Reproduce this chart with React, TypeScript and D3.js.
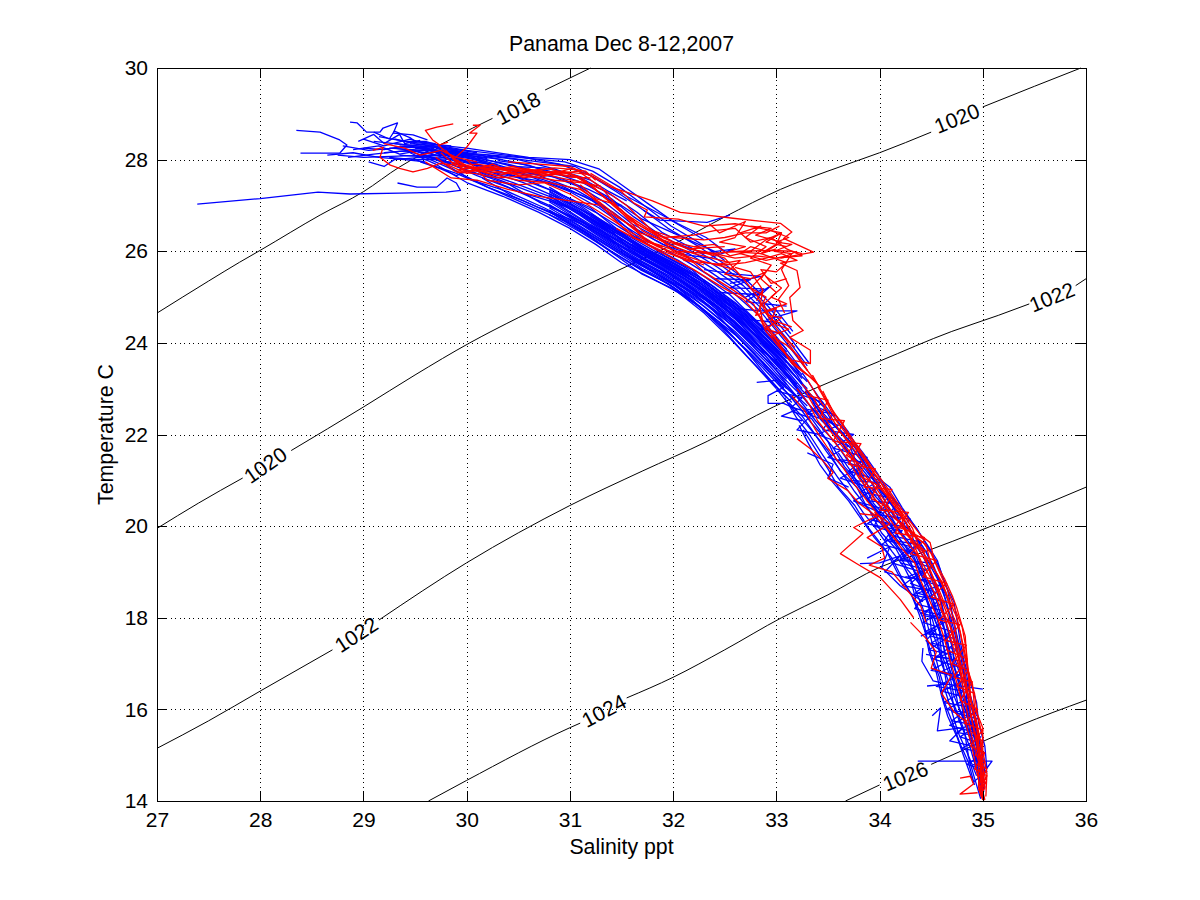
import { useEffect, useRef } from 'react'
import * as d3 from 'd3'

type Pt = [number, number]

const xTicks = [27, 28, 29, 30, 31, 32, 33, 34, 35, 36]
const yTicks = [14, 16, 18, 20, 22, 24, 26, 28, 30]

// density contours, null = gap for the inline label
const contour1018: (Pt | null)[] = [[27,24.65],[27.5,25.35],[27.8,25.76],[28,26.02],[28.58,26.79],[29,27.3],[29.35,27.84],[29.74,28.32],[30.06,28.69],[30.25,28.9],null,[30.76,29.52],[31.2,30]]
const contour1020: (Pt | null)[] = [[27,19.95],[27.4,20.5],[27.83,21.05],null,[28.3,21.65],[29,22.6],[29.5,23.3],[30.03,24],[30.5,24.55],[31.1,25.2],[31.58,25.7],[32,26.15],[32.5,26.75],[33.04,27.35],[33.5,27.75],[34,28.15],[34.5,28.6],null,[35,29.15],[35.5,29.6],[35.95,30]]
const contour1022: (Pt | null)[] = [[27,15.15],[27.5,15.75],[28,16.4],[28.7,17.3],null,[29.15,17.95],[30,19.2],[31,20.45],[31.7,21.2],[32.33,21.85],[32.97,22.6],[33.42,23.05],[34,23.6],[34.7,24.25],[35.15,24.6],[35.45,24.85],null,[35.9,25.25],[36,25.4]]
const contour1024: (Pt | null)[] = [[29.63,14],[30,14.45],[31,15.6],[31.1,15.7],null,[31.55,16.25],[32,16.7],[32.5,17.3],[33.05,18],[33.5,18.5],[34,19.1],[34.45,19.45],[34.97,19.9],[35.36,20.25],[36,20.85]]
const contour1026: (Pt | null)[] = [[33.67,14],[34,14.35],null,[34.5,14.8],[34.97,15.27],[35.36,15.65],[36,16.2]]
const contours = [contour1018, contour1020, contour1022, contour1024, contour1026]

const contourLabels = ['1018', '1020', '1020', '1022', '1022', '1024', '1026']
const labelSalinity = [30.5, 34.75, 28.05, 28.93, 35.67, 31.33, 34.25]
const labelTemperature = [29.12, 28.9, 21.33, 17.63, 25.0, 15.97, 14.54]
const labelAngle = [-28, -22, -35, -33, -22, -28, -22]

// blue casts, upper part of the curve
const blueUpper: Pt[][] = [
  [[29.45,28.15],[29.7,27.9],[30,27.5],[30.35,27.2],[30.7,26.85],[31,26.5],[31.25,26.15],[31.5,25.75],[31.8,25.4],[32.05,25.1],[32.3,24.65],[32.55,24.1],[32.8,23.5],[33,23]],
  [[29.5,28.2],[29.75,27.95],[30.05,27.55],[30.4,27.3],[30.75,26.95],[31.05,26.6],[31.3,26.25],[31.55,25.9],[31.85,25.5],[32.1,25.2],[32.35,24.8],[32.6,24.2],[32.85,23.6],[33.05,23.05]],
  [[29.4,28.2],[29.8,27.95],[30.1,27.65],[30.45,27.35],[30.8,27],[31.1,26.65],[31.35,26.35],[31.6,25.95],[31.9,25.6],[32.15,25.25],[32.4,24.85],[32.65,24.3],[32.9,23.7],[33.1,23.1]],
  [[29.6,28.25],[29.85,28],[30.15,27.7],[30.5,27.4],[30.85,27.1],[31.15,26.75],[31.4,26.4],[31.65,26.05],[31.95,25.65],[32.2,25.35],[32.45,24.95],[32.7,24.4],[32.95,23.75],[33.15,23.2]],
  [[29.55,28.3],[29.9,28.05],[30.2,27.75],[30.55,27.5],[30.9,27.15],[31.2,26.8],[31.45,26.45],[31.7,26.1],[32,25.7],[32.25,25.4],[32.5,25],[32.75,24.45],[33,23.85],[33.2,23.3]],
  [[29.65,28.2],[29.95,28],[30.25,27.8],[30.6,27.55],[30.95,27.2],[31.25,26.85],[31.5,26.5],[31.75,26.15],[32.05,25.8],[32.3,25.45],[32.55,25.05],[32.8,24.5],[33.02,23.95],[33.22,23.35]],
  [[29.7,28.25],[30,28.05],[30.3,27.85],[30.65,27.6],[31,27.3],[31.28,26.95],[31.53,26.55],[31.78,26.2],[32.08,25.85],[32.33,25.5],[32.58,25.1],[32.83,24.6],[33.05,24],[33.25,23.4]],
  [[29.75,28.3],[30.05,28.05],[30.35,27.85],[30.7,27.65],[31.05,27.35],[31.32,27],[31.56,26.6],[31.82,26.25],[32.12,25.9],[32.36,25.55],[32.62,25.15],[32.86,24.65],[33.08,24.05],[33.3,23.4]],
  [[29.5,28.25],[29.95,28.1],[30.4,27.9],[30.75,27.7],[31.1,27.4],[31.35,27.05],[31.6,26.6],[31.85,26.3],[32.15,25.95],[32.4,25.6],[32.65,25.2],[32.88,24.7],[33.1,24.1],[33.3,23.5]],
  [[29.6,28.3],[30,28.15],[30.45,27.95],[30.8,27.75],[31.12,27.5],[31.4,27.15],[31.62,26.75],[31.88,26.35],[32.18,26],[32.43,25.65],[32.68,25.25],[32.9,24.75],[33.12,24.15],[33.32,23.55]],
  [[29.35,28.3],[29.9,28.15],[30.5,28],[30.85,27.8],[31.15,27.55],[31.42,27.2],[31.65,26.85],[31.9,26.4],[32.2,26.05],[32.46,25.7],[32.7,25.3],[32.92,24.8],[33.14,24.2]],
  [[29.3,28.35],[30,28.2],[30.55,28.05],[30.9,27.9],[31.2,27.65],[31.45,27.3],[31.68,26.95],[31.95,26.5],[32.25,26.1],[32.48,25.75],[32.72,25.35],[32.95,24.85],[33.16,24.25]],
  [[29.25,28.25],[29.95,28.15],[30.5,28.05],[30.95,27.95],[31.22,27.75],[31.48,27.4],[31.72,27],[31.98,26.55],[32.28,26.15],[32.5,25.8]],
  [[29.4,28.4],[30,28.25],[30.6,28.05],[31,28],[31.28,27.8],[31.5,27.45],[31.75,27.05],[32,26.65],[32.3,26.25]],
  [[29.55,28.1],[29.85,27.8],[30.2,27.4],[30.55,27.1],[30.85,26.8],[31.15,26.4],[31.4,26],[31.68,25.6],[31.95,25.3],[32.2,24.9],[32.45,24.45],[32.7,23.85],[32.9,23.3],[33.1,22.8]],
  [[29.5,28],[29.9,27.7],[30.25,27.35],[30.6,27],[30.95,26.65],[31.2,26.3],[31.45,25.9],[31.7,25.5],[31.98,25.2],[32.25,24.8],[32.48,24.3],[32.72,23.7],[32.95,23.15],[33.15,22.7]],
  [[29.7,28.15],[30.1,27.9],[30.5,27.6],[30.85,27.3],[31.2,26.95],[31.42,26.55],[31.62,26.2],[31.88,25.8],[32.14,25.5],[32.38,25],[32.62,24.5],[32.85,23.9],[33.05,23.4],[33.25,22.9]],
  [[29.8,28.2],[30.15,27.95],[30.55,27.7],[30.9,27.45],[31.22,27.1],[31.46,26.7],[31.66,26.3],[31.92,25.9],[32.18,25.6],[32.42,25.1],[32.66,24.6],[32.88,24],[33.1,23.5],[33.28,23]],
  [[29.6,28.1],[30.05,27.8],[30.45,27.5],[30.8,27.2],[31.1,26.85],[31.38,26.5],[31.58,26.05],[31.83,25.7],[32.1,25.3],[32.34,24.9],[32.58,24.4],[32.78,23.95],[33,23.6],[33.2,23.1]],
  [[29.65,28.05],[30.1,27.7],[30.42,27.45],[30.72,27.05],[31.03,26.75],[31.33,26.4],[31.52,26],[31.77,25.6],[32.02,25.25],[32.28,24.75],[32.52,24.25],[32.76,23.75],[32.98,23.25],[33.18,22.85]],
  [[30.2,28.1],[30.7,27.95],[31.05,27.85],[31.25,27.6],[31.55,27.2],[31.8,26.9],[32.05,26.6],[32.32,26.3],[32.5,26]],
  [[30,28],[30.5,27.75],[30.9,27.6],[31.18,27.35],[31.5,27],[31.7,26.7],[31.95,26.45],[32.2,26.2],[32.45,25.95]],
  [[29.9,27.9],[30.4,27.65],[30.8,27.5],[31.14,27.2],[31.42,26.85],[31.62,26.5],[31.9,26.15],[32.15,25.95]],
  [[30.1,28.05],[30.45,27.85],[30.75,27.82],[31,27.7],[31.2,27.55],[31.38,27.3],[31.55,27.1]],
  [[30.3,27.98],[30.6,27.88],[30.85,27.68],[31.1,27.6],[31.3,27.25],[31.48,26.98]],
  [[30.25,27.55],[30.5,27.3],[30.8,27.1],[31.05,26.9],[31.28,26.6],[31.5,26.25]],
  [[30.15,27.6],[30.45,27.2],[30.7,26.95],[31,26.7],[31.2,26.5],[31.44,26.15]],
]

// blue casts packed into the solid stretch of the curve
const blueCore: Pt[][] = [
  [[30.8,26.8],[31.1,26.42],[31.4,26],[31.7,25.6],[32,25.22],[32.3,24.72],[32.6,24.18],[32.9,23.5],[33.1,23]],
  [[30.8,26.86],[31.1,26.48],[31.4,26.06],[31.7,25.63],[32,25.27],[32.3,24.8],[32.6,24.25],[32.9,23.58],[33.1,23.08]],
  [[30.8,26.9],[31.1,26.5],[31.4,26.08],[31.7,25.68],[32,25.3],[32.3,24.86],[32.6,24.33],[32.9,23.63],[33.1,23.17]],
  [[30.8,26.95],[31.1,26.55],[31.4,26.12],[31.7,25.72],[32,25.35],[32.3,24.9],[32.6,24.38],[32.9,23.7],[33.1,23.22]],
  [[30.8,27],[31.1,26.6],[31.4,26.15],[31.7,25.75],[32,25.38],[32.3,24.95],[32.6,24.42],[32.9,23.76],[33.1,23.28]],
  [[30.8,27.02],[31.1,26.62],[31.4,26.18],[31.7,25.78],[32,25.42],[32.3,24.98],[32.6,24.47],[32.9,23.8],[33.1,23.34]],
  [[30.8,27.08],[31.1,26.66],[31.4,26.22],[31.7,25.82],[32,25.46],[32.3,25.02],[32.6,24.52],[32.9,23.86],[33.1,23.4]],
  [[30.8,27.12],[31.1,26.7],[31.4,26.25],[31.7,25.86],[32,25.5],[32.3,25.06],[32.6,24.56],[32.9,23.92],[33.1,23.46]],
  [[30.8,27.15],[31.1,26.72],[31.4,26.3],[31.7,25.88],[32,25.53],[32.3,25.1],[32.6,24.6],[32.9,23.97],[33.1,23.5]],
  [[30.8,27.2],[31.1,26.78],[31.4,26.32],[31.7,25.92],[32,25.56],[32.3,25.14],[32.6,24.64],[32.9,24.02],[33.1,23.56]],
  [[30.8,27.22],[31.1,26.8],[31.4,26.36],[31.7,25.95],[32,25.6],[32.3,25.17],[32.6,24.68],[32.9,24.06],[33.1,23.6]],
  [[30.8,27.26],[31.1,26.85],[31.4,26.4],[31.7,25.98],[32,25.62],[32.3,25.2],[32.6,24.72],[32.9,24.1],[33.1,23.66]],
  [[30.8,27.3],[31.1,26.88],[31.4,26.42],[31.7,26],[32,25.66],[32.3,25.24],[32.6,24.77],[32.9,24.15],[33.1,23.7]],
  [[30.8,27.32],[31.1,26.92],[31.4,26.47],[31.7,26.04],[32,25.69],[32.3,25.28],[32.6,24.8],[32.9,24.2],[33.1,23.75]],
  [[30.8,27.36],[31.1,26.96],[31.4,26.5],[31.7,26.06],[32,25.73],[32.3,25.32],[32.6,24.84],[32.9,24.25],[33.1,23.8]],
  [[30.8,27.4],[31.1,27],[31.4,26.53],[31.7,26.1],[32,25.76],[32.3,25.37],[32.6,24.88],[32.9,24.3],[33.1,23.86]],
  [[31.2,26.5],[31.5,26.12],[31.8,25.72],[32.1,25.32],[32.4,24.82],[32.7,24.25],[33,23.55],[33.25,22.85]],
  [[31.2,26.58],[31.5,26.2],[31.8,25.8],[32.1,25.42],[32.4,24.92],[32.7,24.38],[33,23.68],[33.25,23]],
  [[31.2,26.64],[31.5,26.27],[31.8,25.86],[32.1,25.5],[32.4,25],[32.7,24.47],[33,23.76],[33.25,23.1]],
  [[31.2,26.7],[31.5,26.33],[31.8,25.93],[32.1,25.56],[32.4,25.08],[32.7,24.55],[33,23.85],[33.25,23.22]],
  [[31.2,26.76],[31.5,26.38],[31.8,25.98],[32.1,25.62],[32.4,25.16],[32.7,24.62],[33,23.94],[33.25,23.3]],
  [[31.2,26.82],[31.5,26.42],[31.8,26.03],[32.1,25.67],[32.4,25.22],[32.7,24.68],[33,24.02],[33.25,23.38]],
  [[31.6,26.15],[31.9,25.78],[32.2,25.4],[32.5,24.92],[32.8,24.3],[33.05,23.7],[33.3,23.15]],
  [[31.6,26.08],[31.9,25.7],[32.2,25.28],[32.5,24.78],[32.8,24.17],[33.05,23.57],[33.3,23]],
  [[31.6,25.98],[31.9,25.62],[32.2,25.18],[32.5,24.65],[32.8,24.02],[33.05,23.42],[33.3,22.85]],
  [[31.6,25.88],[31.9,25.52],[32.2,25.08],[32.5,24.52],[32.8,23.88],[33.05,23.28],[33.3,22.72]],
  [[31.6,25.8],[31.9,25.44],[32.2,24.98],[32.5,24.42],[32.8,23.75],[33.05,23.15],[33.3,22.62]],
  [[31.6,25.72],[31.9,25.36],[32.2,24.88],[32.5,24.32],[32.8,23.62],[33.05,23.02],[33.3,22.5]],
]

// blue casts, flat bundle at the surface
const blueTop: Pt[][] = [
  [[28.35,28.64],[28.58,28.6],[28.77,28.43],[28.84,28.32],[28.77,28.14],[28.39,28.14]],
  [[28.87,28.82],[28.94,28.8],[29.03,28.6],[29.16,28.6],[29.19,28.69],[29.33,28.8],[29.29,28.58],[29.48,28.54],[29.62,28.43]],
  [[27.39,27.03],[28,27.15],[28.56,27.29],[28.87,27.25],[29.35,27.27],[29.8,27.29],[29.94,27.33],[29.9,27.49],[29.81,27.6],[29.71,27.4],[29.52,27.4],[29.33,27.49]],
  [[28.75,28.1],[29,28.05],[29.4,28.08],[29.8,28.1],[30.1,28]],
  [[28.8,28.3],[29.05,28.2],[29.3,28.25],[29.6,28.15],[29.9,28.2]],
  [[28.85,28.05],[29.1,28.12],[29.35,28.18],[29.7,28.2],[30,28.15]],
  [[29.05,27.95],[29.2,27.85],[29.3,28],[29.55,28.05],[29.85,28]],
  [[29.1,28.4],[29.3,28.35],[29.5,28.3],[29.8,28.25],[30.1,28.15]],
  [[29,28.45],[29.2,28.3],[29.45,28.45],[29.6,28.35],[29.85,28.3]],
  [[29.15,28.5],[29.4,28.4],[29.6,28.4],[29.75,28.3],[30,28.2]],
  [[29.2,28.15],[29.45,28.2],[29.7,28.1],[29.9,28.1],[30.2,27.95]],
  [[29.25,28.05],[29.5,28],[29.7,28],[29.95,27.9],[30.1,27.8]],
  [[29,28.25],[29.2,28.22],[29.4,28.3],[29.65,28.25],[29.95,28.05]],
  [[29.3,28.45],[29.5,28.35],[29.7,28.3],[29.85,28.15],[30.15,28.05]],
  [[28.65,28.1],[28.9,28.15],[29.15,28.05],[29.4,28],[29.6,27.95]],
  [[29.55,27.95],[29.75,27.8],[29.9,27.65],[30,27.75],[30.25,27.6]],
  [[28.95,28.4],[29.1,28.55],[29.2,28.35],[29.35,28.55],[29.4,28.35],[29.55,28.42]],
  [[29.1,28.6],[29.25,28.45],[29.3,28.62],[29.45,28.48],[29.5,28.4],[29.7,28.35]],
  [[28.9,28.22],[29.15,28.3],[29.35,28.12],[29.6,28.22],[29.8,28.15],[30.05,28.1]],
  [[29.3,28.28],[29.55,28.26],[29.75,28.18],[29.95,28.12],[30.2,28.02]],
  [[29.35,28.1],[29.6,28.06],[29.8,28.05],[30,27.95],[30.3,27.9]],
  [[29.45,28.35],[29.65,28.3],[29.85,28.24],[30.05,28.08],[30.35,28]],
  [[29.6,28.18],[29.8,28.02],[29.95,27.95],[30.15,27.85],[30.4,27.78]],
]

// blue casts, loose strands beside the curve
const blueLoose: Pt[][] = [
  [[31.71,26.9],[31.87,26.68],[32.33,26.63],[32.55,26.79]],
  [[32,26.2],[32.29,25.96],[32.6,26.05],[32.35,25.85],[32.05,25.95]],
  [[32.3,25.6],[32.6,25.5],[32.85,25.45],[32.55,25.3]],
  [[32.45,25.1],[32.85,25.05],[32.95,25.25],[32.7,24.9],[33.1,24.8]],
  [[32.6,24.75],[32.85,24.7],[33.2,24.7],[32.9,24.5]],
  [[32.4,25.4],[32.75,25.38],[32.55,25.2],[32.88,25.18],[32.7,25]],
  [[32.75,24.5],[33,24.45],[32.85,24.3],[33.05,24.2]],
  [[32.81,23.14],[33,23.18],[33.07,23.03],[32.92,22.85],[32.92,22.68],[33.07,22.68],[33.2,22.55],[33.05,22.4],[33.25,22.3]],
  [[33,22.95],[33.25,22.8],[33.15,22.6],[33.35,22.45],[33.2,22.1],[33.42,22]],
  [[33.3,21.6],[33.55,21.35],[33.5,21.05],[33.7,20.85]],
  [[34.42,17.34],[34.41,17.05],[34.52,16.62],[34.65,16.55]],
  [[34.46,16.51],[34.65,16.55],[35,16.44]],
  [[34.51,15.86],[34.59,16.03],[34.56,15.53],[34.81,15.6],[34.68,15.31],[34.9,15.2]],
  [[34.37,14.87],[34.7,14.87],[35.09,14.87],[35.04,14.72],[34.9,14.8]],
  [[33.75,20.55],[34,20.3],[33.95,20],[34.15,19.85]],
  [[33.81,19.18],[34,19.2],[34.2,19.35],[34.05,19],[34.3,18.85],[34.35,18.4]],
  [[33.88,19.3],[34.1,19.55],[34.02,19.1],[34.2,18.7],[34.42,18.35]],
  [[34.4,17.6],[34.55,17.75],[34.45,17.5],[34.65,17.2]],
]

// blue casts, lower part of the curve
const blueLower: Pt[][] = [
  [[33,23],[33.18,22.5],[33.3,22.2],[33.5,21.65],[33.62,21.2],[33.78,20.85],[33.88,20.4],[34.05,19.95],[34.18,19.55],[34.3,19.2],[34.38,18.75],[34.46,18.35],[34.52,17.9],[34.57,17.45],[34.6,17],[34.68,16.55],[34.72,16.05],[34.8,15.6],[34.88,15.15],[34.95,14.6],[35,14.15]],
  [[33.05,23.05],[33.22,22.6],[33.34,22.25],[33.54,21.75],[33.66,21.3],[33.82,20.9],[33.92,20.5],[34.09,20.05],[34.22,19.65],[34.34,19.25],[34.42,18.85],[34.5,18.4],[34.56,17.95],[34.61,17.5],[34.65,17.05],[34.72,16.6],[34.76,16.1],[34.84,15.65],[34.9,15.2],[34.97,14.65],[35,14.1]],
  [[33.1,23.1],[33.26,22.65],[33.38,22.3],[33.58,21.8],[33.7,21.4],[33.86,21],[33.96,20.55],[34.13,20.1],[34.25,19.7],[34.38,19.3],[34.45,18.9],[34.54,18.45],[34.6,18],[34.65,17.55],[34.7,17.1],[34.76,16.65],[34.8,16.15],[34.88,15.7],[34.93,15.25],[34.98,14.7],[35.01,14.2]],
  [[33.15,23.2],[33.3,22.7],[33.42,22.4],[33.62,21.85],[33.74,21.5],[33.9,21.05],[34,20.6],[34.16,20.2],[34.28,19.8],[34.42,19.35],[34.5,18.95],[34.58,18.5],[34.63,18.05],[34.68,17.6],[34.72,17.15],[34.79,16.7],[34.83,16.2],[34.9,15.75],[34.95,15.3],[34.99,14.8],[35.02,14.3]],
  [[33.2,23.3],[33.34,22.8],[33.46,22.45],[33.66,21.95],[33.78,21.55],[33.94,21.1],[34.04,20.7],[34.2,20.25],[34.32,19.85],[34.45,19.45],[34.54,19],[34.62,18.55],[34.67,18.1],[34.71,17.65],[34.76,17.2],[34.82,16.75],[34.86,16.25],[34.92,15.8],[34.97,15.35],[35,14.9]],
  [[33.25,23.35],[33.4,22.85],[33.5,22.55],[33.7,22],[33.84,21.6],[33.98,21.15],[34.08,20.75],[34.24,20.3],[34.36,19.95],[34.48,19.5],[34.58,19.1],[34.66,18.6],[34.7,18.15],[34.74,17.7],[34.79,17.25],[34.84,16.8],[34.88,16.3],[34.94,15.85]],
  [[33.08,22.8],[33.2,22.35],[33.32,22],[33.45,21.55],[33.6,21.05],[33.72,20.7],[33.84,20.3],[33.98,19.9],[34.12,19.45],[34.24,19.1],[34.34,18.65],[34.42,18.2],[34.47,17.8],[34.52,17.35],[34.57,16.9],[34.63,16.45],[34.7,15.95],[34.76,15.5],[34.85,15.05],[34.92,14.5],[34.98,14.05]],
  [[33.12,22.7],[33.25,22.4],[33.36,22.05],[33.48,21.65],[33.64,21.15],[33.76,20.75],[33.9,20.35],[34.02,19.85],[34.16,19.5],[34.27,19.05],[34.4,18.7],[34.48,18.25],[34.5,17.75],[34.56,17.4],[34.62,16.95],[34.66,16.4],[34.74,16],[34.82,15.55],[34.86,15],[34.94,14.55]],
  [[33.28,23],[33.4,22.55],[33.52,22.15],[33.72,21.7],[33.8,21.25],[33.92,20.75],[34.06,20.4],[34.18,19.95],[34.3,19.6],[34.4,19.1],[34.47,18.7],[34.55,18.2],[34.62,17.85],[34.66,17.3],[34.7,16.85],[34.76,16.35],[34.84,15.95],[34.88,15.45],[34.94,15],[34.98,14.4]],
  [[33.32,22.9],[33.46,22.6],[33.56,22.2],[33.76,21.75],[33.86,21.3],[34,20.8],[34.12,20.45],[34.26,20.05],[34.34,19.65],[34.46,19.2],[34.52,18.75],[34.6,18.3],[34.65,17.8],[34.7,17.4],[34.73,16.9],[34.8,16.45],[34.87,16.05],[34.91,15.5],[34.96,15.05]],
  [[33.35,22.7],[33.5,22.3],[33.62,22.1],[33.8,21.6],[33.9,21.2],[34.03,20.65],[34.14,20.2],[34.3,19.9],[34.42,19.55],[34.52,19.15],[34.6,18.7],[34.68,18.3],[34.72,17.9],[34.76,17.45],[34.8,17],[34.85,16.55],[34.9,16.1],[34.93,15.6],[34.99,15.15],[35.02,14.6]],
  [[33.4,22.6],[33.58,22.4],[33.7,22.05],[33.82,21.58],[33.93,21.15],[34.1,20.85],[34.22,20.4],[34.34,20],[34.46,19.6],[34.56,19.25],[34.63,18.75],[34.72,18.35],[34.75,17.95],[34.78,17.5],[34.82,17.05],[34.88,16.6],[34.94,16.15],[34.96,15.7],[35.02,15.2],[35.04,14.7]],
  [[33.22,22.2],[33.3,21.85],[33.42,21.35],[33.55,20.95],[33.7,20.55],[33.84,20.1],[33.95,19.75],[34.08,19.4],[34.18,18.95],[34.3,18.55],[34.38,18.1],[34.44,17.7],[34.48,17.25],[34.55,16.8],[34.6,16.3],[34.66,15.85],[34.75,15.4],[34.82,14.95],[34.9,14.45]],
  [[33.26,22.1],[33.36,21.75],[33.5,21.25],[33.6,20.85],[33.76,20.45],[33.88,20],[34,19.65],[34.12,19.3],[34.22,18.85],[34.32,18.45],[34.42,18],[34.46,17.55],[34.5,17.2],[34.58,16.7],[34.62,16.2],[34.7,15.75],[34.78,15.25],[34.86,14.85],[34.92,14.35]],
  [[33.6,21.6],[33.72,21.2],[33.85,20.7],[34,20.25],[34.1,19.75],[34.23,19.35],[34.36,18.95],[34.44,18.5],[34.52,18.05],[34.6,17.6],[34.64,17.15],[34.7,16.7],[34.78,16.25],[34.82,15.8],[34.9,15.35],[34.96,14.85]],
  [[33.68,21.5],[33.83,21],[33.94,20.5],[34.08,20.15],[34.2,19.7],[34.32,19.4],[34.4,19],[34.5,18.55],[34.55,18.1],[34.64,17.7],[34.68,17.2],[34.74,16.8],[34.8,16.3],[34.86,15.9],[34.92,15.4],[34.97,14.95],[35,14.5]],
  [[33.1,23.3],[33.28,22.75],[33.44,22.3],[33.6,21.95],[33.68,21.65],[33.82,21.35],[33.96,20.95],[34.1,20.55],[34.2,20.1],[34.36,19.75],[34.44,19.35],[34.56,18.85],[34.64,18.4],[34.69,18],[34.74,17.55],[34.77,17.1],[34.83,16.65],[34.85,16.05],[34.92,15.65],[34.98,15.1]],
  [[33.16,22.5],[33.34,22.35],[33.5,21.85],[33.58,21.45],[33.74,21.05],[33.86,20.65],[34.02,20.15],[34.14,19.8],[34.26,19.45],[34.34,19],[34.43,18.6],[34.5,18.15],[34.58,17.7],[34.6,17.2],[34.68,16.75],[34.72,16.3],[34.8,15.85],[34.87,15.4],[34.93,14.9],[34.98,14.25]],
]

// blue casts with the sharp back-and-forth runs of the deep water
const blueZigzag: Pt[][] = [
  [[33.2,22.9],[33.45,22.7],[33.3,22.45],[33.6,22.2],[33.4,22],[33.7,21.75],[33.5,21.5],[33.82,21.3],[33.62,21.05],[33.95,20.8],[33.75,20.55],[34.08,20.35],[33.88,20.05],[34.22,19.9],[34.02,19.6],[34.36,19.4]],
  [[33.3,22.55],[33.55,22.45],[33.45,22.1],[33.75,22],[33.55,21.7],[33.88,21.5],[33.7,21.2],[34,21],[33.82,20.75],[34.14,20.6],[33.96,20.25],[34.3,20.15],[34.1,19.8],[34.4,19.65],[34.2,19.25],[34.5,19.2]],
  [[34.1,19.7],[34.36,19.6],[34.2,19.3],[34.5,19.1],[34.28,18.9],[34.58,18.7],[34.32,18.5],[34.64,18.35],[34.4,18.1],[34.68,17.95],[34.44,17.7],[34.72,17.55]],
  [[34.2,19.2],[34.45,19.05],[34.3,18.75],[34.55,18.55],[34.36,18.3],[34.62,18.15],[34.42,17.9],[34.7,17.7],[34.5,17.45],[34.76,17.3],[34.52,17.1],[34.8,16.9]],
  [[34.5,17.6],[34.74,17.45],[34.55,17.15],[34.8,17.05],[34.58,16.8],[34.84,16.65],[34.6,16.4],[34.86,16.25],[34.65,16],[34.9,15.9],[34.68,15.65],[34.92,15.5]],
  [[34.45,17.2],[34.7,17.1],[34.5,16.85],[34.78,16.75],[34.55,16.5],[34.82,16.4],[34.62,16.15],[34.88,16.05],[34.7,15.75],[34.95,15.65],[34.78,15.4],[34.98,15.25]],
  [[34.7,15.95],[34.95,15.8],[34.75,15.5],[34.98,15.4],[34.8,15.15],[35.02,15.05],[34.85,14.8],[35.04,14.65],[34.9,14.4]],
  [[33.9,20.15],[34.15,20],[34.05,19.7],[34.3,19.55],[34.12,19.2],[34.4,19],[34.22,18.7],[34.48,18.6],[34.34,18.2],[34.6,18.05]],
  [[33.6,21.45],[33.85,21.4],[33.72,21],[34,20.95],[33.88,20.55],[34.18,20.5],[34.02,20.1],[34.3,19.95]],
  [[34.25,18.9],[34.5,18.8],[34.35,18.55],[34.58,18.4],[34.42,18.05],[34.62,17.95],[34.46,17.65],[34.68,17.6],[34.48,17.3],[34.7,17.2]],
]

// red casts, surface bundle running into the plume
const redUpper: Pt[][] = [
  [[29.75,28.15],[29.9,27.85],[30.1,27.9],[30.4,27.8],[30.7,27.75],[31,27.7],[31.2,27.45],[31.35,27.15],[31.55,26.8],[31.75,26.5],[32,26.2],[32.3,26.05]],
  [[29.8,28.2],[29.95,27.8],[30.2,27.85],[30.5,27.7],[30.8,27.8],[31.05,27.65],[31.25,27.35],[31.42,27],[31.6,26.65],[31.85,26.35],[32.1,26.1],[32.4,25.9]],
  [[29.7,28.05],[29.88,27.75],[30.15,27.75],[30.45,27.85],[30.75,27.65],[31.08,27.75],[31.3,27.4],[31.47,26.95],[31.65,26.6],[31.9,26.25],[32.15,26.05],[32.5,26.1]],
  [[29.85,28.1],[30,27.7],[30.25,27.9],[30.55,27.6],[30.85,27.7],[31.12,27.6],[31.32,27.2],[31.5,26.9],[31.7,26.45],[31.95,26.15],[32.2,25.95],[32.55,25.75]],
  [[29.9,28],[30.05,27.8],[30.3,27.65],[30.6,27.8],[30.9,27.6],[31.15,27.5],[31.36,27.3],[31.55,27],[31.75,26.55],[32,26],[32.25,25.8],[32.6,25.6]],
  [[29.72,28.32],[29.95,27.9],[30.2,27.7],[30.5,27.55],[30.8,27.5],[31.1,27.35],[31.3,27.05],[31.5,26.7],[31.72,26.3],[31.98,25.95],[32.3,25.7]],
  [[30,28],[30.2,27.55],[30.5,27.45],[30.75,27.5],[31,27.25],[31.22,26.95],[31.4,26.7],[31.6,26.4],[31.85,26.1],[32.15,25.85]],
  [[29.6,27.95],[29.85,27.6],[30.1,27.55],[30.4,27.35],[30.7,27.2],[31,27.1],[31.3,27],[31.45,26.65],[31.62,26.3],[31.9,26],[32.2,25.75]],
  [[30.4,27.95],[30.7,27.9],[31,27.85],[31.2,27.65],[31.4,27.4],[31.6,27.25],[31.8,27.1],[32.07,26.85],[32.33,26.79],[32.58,26.72],[33.04,26.61],[33.15,26.42],[33.07,26.28],[33.36,25.98],[33.04,25.85]],
  [[31.2,27.7],[31.35,27.5],[31.5,27.3],[31.62,27.05],[31.75,26.9],[31.72,26.75],[32.05,26.7],[32.3,26.55],[32.6,26.6],[32.85,26.5],[33.05,26.4],[32.9,26.2],[33.1,26.1]],
  [[29.09,28.2],[29.19,28.27],[29.16,28.05],[29.26,27.88],[29.35,27.81],[29.48,27.73],[29.62,27.81],[29.74,27.92],[29.9,27.88]],
  [[29.87,28.78],[29.71,28.71],[29.6,28.64],[29.67,28.43],[29.74,28.32],[29.82,28.38]],
  [[30.06,28.75],[30.13,28.75],[30.03,28.58],[30.1,28.58],[30,28.27],[29.87,28]],
  [[29.2,28.35],[29.4,28.25],[29.55,28.1],[29.75,28.2],[29.9,28.05],[30.1,27.95]],
  [[30.1,27.75],[30.4,27.7],[30.7,27.6],[31,27.8],[31.15,27.75],[31.25,27.55]],
  [[30,27.85],[30.35,27.78],[30.65,27.72],[30.95,27.72],[31.1,27.62]],
  [[29.85,27.95],[30,27.82],[30.25,27.8],[30.55,27.75],[30.85,27.82],[31.05,27.78]],
  [[29.8,27.9],[29.95,27.75],[30.2,27.78],[30.5,27.82],[30.8,27.72],[31,27.62],[31.2,27.6]],
  [[29.92,27.78],[30.1,27.82],[30.35,27.72],[30.62,27.68],[30.9,27.75],[31.18,27.68]],
  [[29.9,27.72],[30.08,27.7],[30.3,27.6],[30.6,27.65],[30.85,27.55],[31.1,27.5],[31.3,27.42]],
  [[31,27.55],[31.2,27.2],[31.35,26.9],[31.45,26.75],[31.6,26.55],[31.75,26.2],[31.9,26.1]],
  [[31.1,27.45],[31.25,27.15],[31.4,27.05],[31.52,26.8],[31.68,26.4],[31.82,26.3],[32.05,26.05]],
]

// red tangle of the warm plume and the column below it
const redPlume: Pt[][] = [
  [[31.9,26.3],[32.2,26.35],[32.4,26.45],[32.6,26.5],[32.75,26.2],[32.95,26.3],[33.1,26.05],[33.25,25.9],[33,25.85],[32.8,25.9],[32.6,25.85],[32.4,25.95],[32.15,26.05]],
  [[32.2,26.1],[32.4,26.15],[32.55,25.9],[32.75,26],[32.9,26.25],[33.05,26.4],[33,26.15],[32.85,25.95],[33.1,25.75],[33,25.55],[32.85,25.6],[32.95,25.3],[33.1,25.4]],
  [[32.1,25.8],[32.3,25.75],[32.5,25.7],[32.7,25.75],[32.9,25.85],[33.05,25.95],[33.2,25.8],[33.04,25.74],[33.2,25.58],[33.23,25.21],[33.13,24.99],[33.16,24.49],[33.26,24.27],[33.13,24.12],[33.33,23.84],[33.33,23.55],[33.16,23.62]],
  [[32.6,25.65],[32.75,25.55],[32.87,25.15],[32.81,24.93],[32.87,25.15],[32.84,24.78],[32.87,24.43],[33,24.05],[33.13,23.62],[33.33,23.25],[33.43,23.03]],
  [[32.9,25.45],[33.05,25.2],[32.95,25],[33.1,24.85],[32.9,24.7],[33,24.4],[33.12,24.3],[32.95,24.15],[33.1,23.95],[33.22,23.7],[33.3,23.4]],
  [[32.65,26.4],[32.85,26.55],[32.7,26.3],[32.9,26.1],[32.75,25.85],[32.95,25.7],[32.85,25.4],[33,25.1],[32.88,24.85],[32.92,24.6],[33.05,24.55],[32.9,24.3],[33.05,24.2],[33.18,23.9]],
  [[32.95,26.45],[33.12,26.3],[33,26.2],[33.15,26.15],[32.98,26],[33.15,25.95],[33.05,25.6],[33.12,25.25],[33.02,24.95],[33.08,24.65]],
  [[31.6,26.3],[31.85,26.15],[32.1,25.95],[32.3,25.55],[32.55,25.2],[32.78,24.85],[32.9,24.25],[33.05,23.85],[33.2,23.5],[33.38,23.15]],
  [[31.45,26.5],[31.7,26.2],[31.95,25.9],[32.2,25.6],[32.45,25.25],[32.68,24.95],[32.85,24.55],[33,24.1],[33.15,23.55],[33.3,23.3]],
  [[32.3,26],[32.5,25.85],[32.7,25.35],[32.82,25],[32.95,24.45],[33.1,24.05],[33.25,23.55],[33.4,23.1]],
  [[32.35,26.6],[32.45,26.4],[32.7,26.65],[32.6,26.3],[32.45,26.2],[32.7,26.1],[32.55,26],[32.85,25.95],[33,26.05]],
  [[32.75,26.55],[32.95,26.5],[32.8,26.35],[33.05,26.2],[32.9,26],[32.75,26.1],[32.65,25.95],[32.9,25.8],[33.1,25.9],[33.2,26]],
  [[32.4,25.7],[32.65,25.8],[32.5,25.5],[32.75,25.4],[32.9,25.55],[32.75,25.2],[32.9,25],[32.8,24.6],[33,24.75],[32.95,24.5],[33.15,24.35]],
  [[31.8,26.45],[32,26.3],[32.3,26.25],[32.5,26.3],[32.7,26.4],[32.9,26.4],[33.03,26.55]],
  [[32.05,26],[32.35,25.95],[32.65,26],[32.95,26.02],[33.15,26],[33.25,25.95]],
]

// red casts, lower part of the curve
const redLower: Pt[][] = [
  [[33.3,23.2],[33.42,22.75],[33.5,22.5],[33.62,22.05],[33.76,21.65],[33.88,21.25],[34,20.9],[34.12,20.5],[34.25,20.1],[34.35,19.75],[34.45,19.6],[34.5,19.15],[34.6,18.8],[34.68,18.35],[34.75,18],[34.8,17.5],[34.85,17],[34.87,16.5],[34.9,16],[34.95,15.5],[34.97,15],[35,14.5],[35,14.05]],
  [[33.25,23.1],[33.36,22.8],[33.46,22.4],[33.58,22],[33.72,21.6],[33.84,21.15],[33.96,20.85],[34.08,20.45],[34.2,20.05],[34.32,19.7],[34.42,19.5],[34.48,19.05],[34.56,18.7],[34.64,18.25],[34.72,17.9],[34.76,17.4],[34.82,16.95],[34.85,16.4],[34.88,15.9],[34.93,15.45],[34.98,14.9],[34.98,14.4],[35.02,14.02]],
  [[33.35,23.3],[33.46,22.85],[33.54,22.55],[33.66,22.15],[33.8,21.7],[33.92,21.3],[34.04,20.95],[34.16,20.55],[34.28,20.15],[34.4,19.8],[34.49,19.64],[34.53,19.25],[34.63,18.85],[34.71,18.45],[34.75,18.2],[34.83,17.6],[34.85,16.9],[34.9,16.55],[34.92,16.05],[35,15.6],[35,15.1],[35.04,14.6],[35.03,14.1]],
  [[33.2,23],[33.32,22.65],[33.4,22.3],[33.54,21.9],[33.68,21.5],[33.8,21.05],[33.92,20.7],[34.04,20.35],[34.16,19.95],[34.28,19.6],[34.36,19.4],[34.44,18.95],[34.52,18.6],[34.6,18.15],[34.66,17.8],[34.72,17.3],[34.78,16.85],[34.82,16.3],[34.86,15.8],[34.9,15.35],[34.96,14.85],[34.96,14.3],[35,14.05]],
  [[33.4,23.05],[33.5,22.65],[33.58,22.3],[33.7,21.95],[33.84,21.55],[33.96,21.1],[34.08,20.75],[34.2,20.35],[34.32,19.95],[34.38,19.55],[34.46,19.3],[34.56,18.95],[34.64,18.55],[34.7,18.1],[34.78,17.7],[34.82,17.2],[34.87,16.75],[34.88,16.2],[34.94,15.75],[34.98,15.25],[35,14.75],[35.02,14.25]],
  [[33.15,22.85],[33.28,22.5],[33.38,22.1],[33.5,21.7],[33.64,21.3],[33.76,20.9],[33.88,20.55],[34,20.2],[34.12,19.8],[34.22,19.5],[34.34,19.2],[34.4,18.8],[34.48,18.4],[34.56,18],[34.62,17.6],[34.68,17.1],[34.74,16.65],[34.8,16.15],[34.84,15.65],[34.9,15.15],[34.94,14.65],[34.99,14.15]],
  [[33.45,22.95],[33.56,22.45],[33.64,22.25],[33.74,21.8],[33.87,21.4],[34,21],[34.1,20.6],[34.22,20.25],[34.3,19.85],[34.42,19.65],[34.5,19.4],[34.58,19],[34.66,18.6],[34.72,18.25],[34.8,17.8],[34.84,17.3],[34.86,16.8],[34.92,16.35],[34.95,15.85],[35,15.4],[34.98,14.95],[35.03,14.45]],
  [[33.28,22.95],[33.38,22.55],[33.48,22.2],[33.6,21.85],[33.74,21.45],[33.86,20.95],[34,20.65],[34.1,20.25],[34.24,20],[34.34,19.55],[34.4,19.25],[34.5,18.85],[34.58,18.5],[34.66,18.05],[34.7,17.65],[34.76,17.15],[34.8,16.7],[34.86,16.25],[34.9,15.7],[34.94,15.25],[34.98,14.7],[35,14.2]],
  [[33.2,21.91],[33.33,21.69],[33.45,21.43],[33.55,21.17],[33.5,21.04],[33.69,20.78],[33.8,20.5],[33.95,20.25],[34.08,19.9],[34.2,19.6]],
  [[33.81,20.27],[33.98,20.23],[33.75,19.97],[33.84,19.84],[33.62,19.4],[33.78,19.18],[34.01,18.87],[34.2,18.4],[34.33,18]],
  [[33.95,20.3],[34.1,20.05],[33.88,19.75],[34.02,19.55],[34.05,19.3],[33.9,19.15],[34.12,19],[34.25,18.65],[34.4,18.25],[34.45,17.9]],
  [[34.3,17.9],[34.45,17.55],[34.55,17.25],[34.5,16.9],[34.7,16.75],[34.6,16.35],[34.72,15.95],[34.85,15.7]],
  [[34.78,14.5],[34.88,14.54],[34.91,14.37],[34.78,14.15],[34.95,14.18]],
  [[34.05,20.8],[34.2,20.35],[34.25,19.85],[34.38,19.5],[34.48,19.1],[34.56,18.65],[34.6,18.2],[34.7,17.75],[34.75,17.35],[34.8,16.85],[34.84,16.45],[34.9,16.1],[34.94,15.65],[34.96,15.2]],
  [[33.3,22.85],[33.5,22.75],[33.42,22.35],[33.66,22.3],[33.55,21.85],[33.82,21.8],[33.7,21.35],[33.96,21.25],[33.85,20.85],[34.12,20.8],[34,20.35],[34.28,20.3],[34.15,19.85],[34.44,19.75]],
  [[34.2,20],[34.44,19.7],[34.3,19.4],[34.55,19.25],[34.42,18.9],[34.65,18.75],[34.5,18.45],[34.72,18.3],[34.58,17.95],[34.78,17.85],[34.64,17.5],[34.84,17.4],[34.7,17],[34.86,16.85],[34.75,16.5],[34.92,16.35]],
  [[34.65,17.3],[34.85,17.1],[34.72,16.7],[34.9,16.6],[34.78,16.2],[34.95,16],[34.82,15.7],[35,15.55],[34.88,15.2],[35.02,15.05],[34.92,14.7],[35.04,14.55],[34.96,14.25],[35.02,14.05]],
  [[34.9,15.5],[35,15.3],[34.93,15],[35.02,14.85],[34.95,14.6],[35.03,14.4],[34.97,14.2],[35,14.02]],
  [[34.94,15.2],[35.01,15],[34.96,14.8],[35.04,14.7],[34.98,14.45],[35.02,14.3],[34.98,14.1]],
  [[33.95,20.95],[34.1,20.6],[34.05,20.4],[34.22,20.2],[34.15,20],[34.34,19.85],[34.3,19.65],[34.45,19.45]],
  [[33.6,22.1],[33.74,21.75],[33.68,21.55],[33.85,21.3],[33.8,21.1],[33.98,20.9],[33.92,20.6],[34.1,20.4]],
]

const title = 'Panama Dec 8-12,2007'
const xLabel = 'Salinity ppt'
const yLabel = 'Temperature C'

const FONT = '"Liberation Sans", Arial, sans-serif'

export default function App() {
  const svgRef = useRef<SVGSVGElement>(null)

  useEffect(() => {
    if (!svgRef.current) return
    const svg = d3.select(svgRef.current)
    svg.selectAll('*').remove()

    const left = 157, right = 1086, top = 68, bottom = 801
    const x = d3.scaleLinear().domain([27, 36]).range([left, right])
    const y = d3.scaleLinear().domain([14, 30]).range([bottom, top])

    const line = d3.line<Pt | null>()
      .defined(d => d !== null)
      .x(d => x((d as Pt)[0]))
      .y(d => y((d as Pt)[1]))

    // Grid
    const gridX = svg.append('g').attr('transform', `translate(0, ${bottom})`)
      .call(d3.axisBottom(x).tickValues(xTicks.slice(1, -1)).tickSize(-(bottom - top)).tickFormat(() => ''))
    const gridY = svg.append('g').attr('transform', `translate(${left}, 0)`)
      .call(d3.axisLeft(y).tickValues(yTicks.slice(1, -1)).tickSize(-(right - left)).tickFormat(() => ''))
    for (const g of [gridX, gridY]) {
      g.select('.domain').remove()
      g.selectAll('line').attr('stroke', '#000').attr('stroke-dasharray', '1 3.5').attr('shape-rendering', 'crispEdges')
    }

    // Contours
    const contourLine = line.curve(d3.curveMonotoneX)
    svg.append('g').selectAll('path').data(contours).enter().append('path')
      .attr('d', d => contourLine(d))
      .attr('fill', 'none').attr('stroke', '#000').attr('stroke-width', 1)
    line.curve(d3.curveLinear)

    contourLabels.forEach((label, i) => {
      svg.append('text')
        .attr('transform', `translate(${x(labelSalinity[i])}, ${y(labelTemperature[i])}) rotate(${labelAngle[i]})`)
        .attr('text-anchor', 'middle').attr('dy', '0.35em')
        .style('font-family', FONT).style('font-size', '21px').style('fill', '#000')
        .text(label)
    })

    // Casts, blue first so the red lies on top
    const casts = (data: Pt[][], color: string) => {
      svg.append('g').selectAll('path').data(data).enter().append('path')
        .attr('d', d => line(d))
        .attr('fill', 'none').attr('stroke', color).attr('stroke-width', 1.3)
        .attr('stroke-linejoin', 'round')
    }
    casts(blueTop, '#0000ff')
    casts(blueUpper, '#0000ff')
    casts(blueCore, '#0000ff')
    casts(blueLower, '#0000ff')
    casts(blueZigzag, '#0000ff')
    casts(blueLoose, '#0000ff')
    casts(redUpper, '#ff0000')
    casts(redPlume, '#ff0000')
    casts(redLower, '#ff0000')

    // Axes on all four sides, ticks pointing in
    const axes = [
      svg.append('g').attr('transform', `translate(0, ${bottom})`)
        .call(d3.axisBottom(x).tickValues(xTicks).tickSizeInner(-10).tickSizeOuter(0).tickPadding(11).tickFormat(d3.format('d') as any)),
      svg.append('g').attr('transform', `translate(${left}, 0)`)
        .call(d3.axisLeft(y).tickValues(yTicks).tickSizeInner(-10).tickSizeOuter(0).tickPadding(9).tickFormat(d3.format('d') as any)),
      svg.append('g').attr('transform', `translate(0, ${top})`)
        .call(d3.axisTop(x).tickValues(xTicks).tickSizeInner(-10).tickSizeOuter(0).tickFormat(() => '')),
      svg.append('g').attr('transform', `translate(${right}, 0)`)
        .call(d3.axisRight(y).tickValues(yTicks).tickSizeInner(-10).tickSizeOuter(0).tickFormat(() => '')),
    ]
    for (const g of axes) {
      g.selectAll('line, path').attr('stroke', '#000').attr('shape-rendering', 'crispEdges')
      g.selectAll('text').style('font-family', FONT).style('font-size', '21px').style('fill', '#000')
    }

    // Title and axis labels
    const addText = (t: string, px: number, py: number, rotate = 0) => {
      svg.append('text')
        .attr('transform', `translate(${px}, ${py}) rotate(${rotate})`)
        .attr('text-anchor', 'middle').attr('dy', '0.35em')
        .style('font-family', FONT).style('font-size', '21.3px').style('fill', '#000')
        .text(t)
    }
    addText(title, (left + right) / 2, 44)
    addText(xLabel, (left + right) / 2, 847)
    addText(yLabel, 106, (top + bottom) / 2, -90)
  }, [])

  return (
    <svg
      ref={svgRef}
      width={1200}
      height={900}
      style={{ position: 'absolute', left: 0, top: 0, background: '#fff' }}
    />
  )
}
